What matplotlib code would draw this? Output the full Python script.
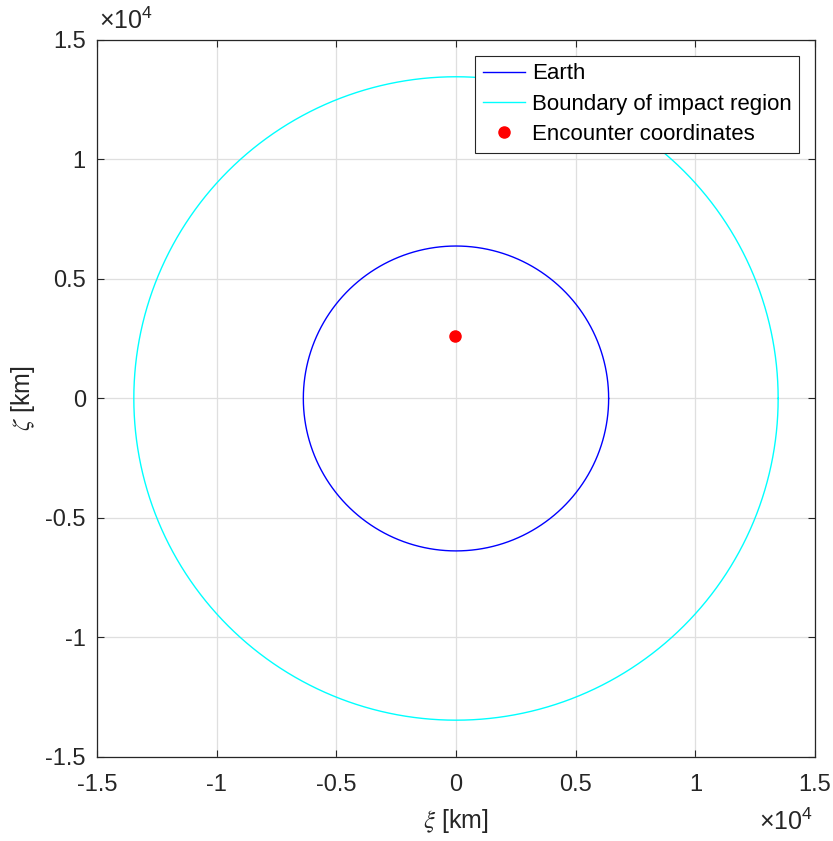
import numpy as np
import matplotlib.pyplot as plt
from matplotlib.ticker import FuncFormatter

# radii of the two circles in the b-plane [km]
earth_radius = 6378.0
impact_radius = 13460.0

# encounter point (xi, zeta) [km]
encounter_xi = [-40.0]
encounter_zeta = [2610.0]

tick_vals = [-1.5e4, -1e4, -0.5e4, 0, 0.5e4, 1e4, 1.5e4]

plt.rcParams["font.family"] = ["Liberation Sans", "DejaVu Sans"]
plt.rcParams["axes.unicode_minus"] = False
plt.rcParams["mathtext.fontset"] = "custom"
plt.rcParams["mathtext.rm"] = "Liberation Sans"
plt.rcParams["mathtext.it"] = "Liberation Sans:italic"

fig = plt.figure(figsize=(8.33, 8.41), dpi=100)
ax = fig.add_axes([0.1164, 0.0999, 0.862, 0.8526])

theta = np.linspace(0, 2 * np.pi, 721)
ax.plot(earth_radius * np.cos(theta), earth_radius * np.sin(theta),
        color="#0000ff", lw=1.0, label="Earth")
ax.plot(impact_radius * np.cos(theta), impact_radius * np.sin(theta),
        color="#00ffff", lw=1.0, label="Boundary of impact region")
ax.plot(encounter_xi, encounter_zeta, "o", color="#ff0000", ms=8,
        ls="none", label="Encounter coordinates")

ax.set_xlim(-1.5e4, 1.5e4)
ax.set_ylim(-1.5e4, 1.5e4)
ax.set_xticks(tick_vals)
ax.set_yticks(tick_vals)
fmt = FuncFormatter(lambda v, pos: "%g" % (v / 1e4))
ax.xaxis.set_major_formatter(fmt)
ax.yaxis.set_major_formatter(fmt)

ax.grid(True, color="#dfdfdf", lw=0.9)
ax.set_axisbelow(True)
for s in ax.spines.values():
    s.set_color("#262626")
    s.set_linewidth(0.9)
ax.tick_params(direction="in", length=5, width=0.8, colors="#262626",
               labelsize=17, top=True, right=True)
ax.tick_params(axis="x", pad=12)
ax.tick_params(axis="y", pad=8)

ax.set_xlabel(r"$\xi$ [km]", fontsize=18, color="#262626", labelpad=8,
              math_fontfamily="stix")
ax.set_ylabel(r"$\zeta$ [km]", fontsize=18, color="#262626", labelpad=6,
              math_fontfamily="stix")

# exponent markers
ax.text(0.003, 1.008, r"$\times 10^4$", transform=ax.transAxes, fontsize=18,
        color="#262626", ha="left", va="bottom")
ax.text(0.997, -0.072, r"$\times 10^4$", transform=ax.transAxes, fontsize=18,
        color="#262626", ha="right", va="top")

leg = ax.legend(loc="upper right", fontsize=16, fancybox=False,
                framealpha=1, edgecolor="#262626", borderaxespad=0.7,
                handlelength=1.9, handletextpad=0.3, borderpad=0.35,
                labelspacing=0.42)
leg.get_frame().set_linewidth(0.8)

fig.savefig("out.png", dpi=100)
